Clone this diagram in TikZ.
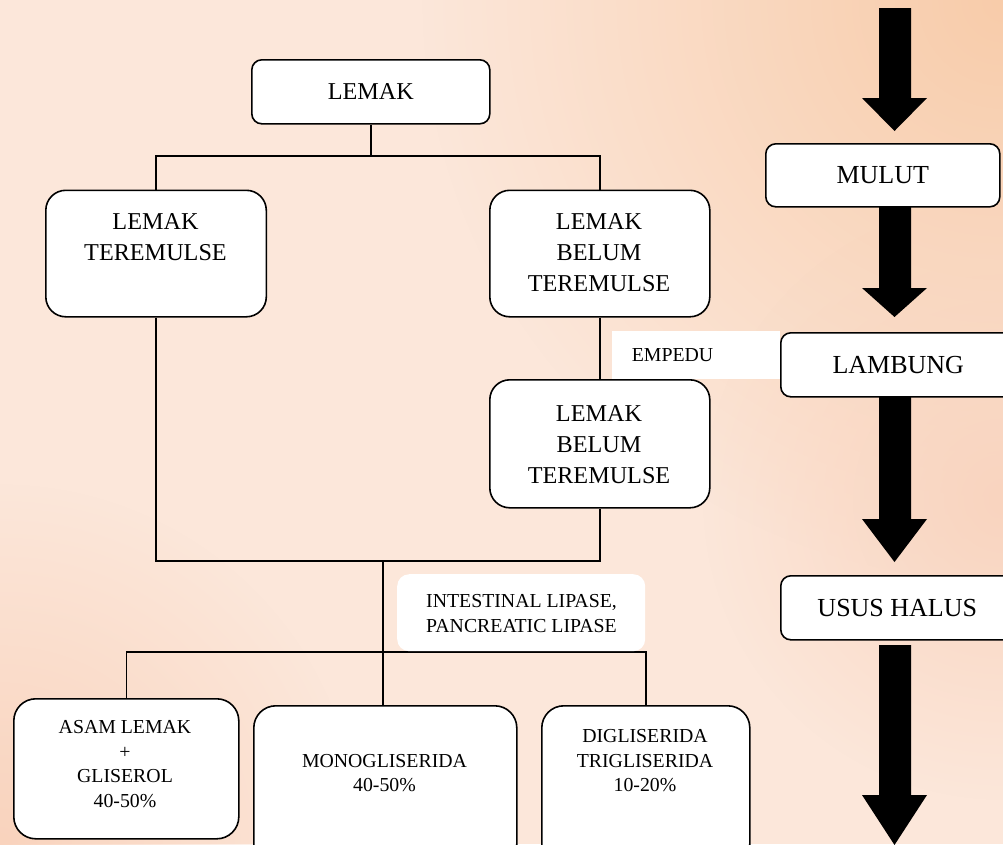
\documentclass[tikz,border=0pt]{standalone}
\usepackage{fontspec}
\setmainfont{Liberation Serif}
\usetikzlibrary{fadings}
\tikzfading[name=spot, inner color=transparent!0, outer color=transparent!100]
\definecolor{bgbase}{HTML}{FCE7DA}
\definecolor{bgtr}{HTML}{F8CCAA}
\definecolor{bgbl}{HTML}{F9D3BD}
\definecolor{bgr}{HTML}{F9D4BF}
\newcommand\blockarrow[3]{%
  \fill[black] (879,#1) -- (911,#1) -- (911,#2) -- (927,#2) -- (894.5,#3) -- (862,#2) -- (879,#2) -- cycle;}
\begin{document}
\begin{tikzpicture}[x=1pt,y=-1pt,
  rbox/.style={draw=black, line width=1.6pt, fill=white, inner sep=0pt, anchor=north west},
  big/.style={font=\fontsize{24.2}{31}\selectfont, align=center, inner sep=0pt},
  side/.style={font=\fontsize{26}{31}\selectfont, align=center},
  small/.style={font=\fontsize{19.8}{24.5}\selectfont, align=center, inner sep=0pt},
  conn/.style={draw=black, line width=1.6pt}]
\useasboundingbox (0,0) rectangle (1003,844);
\clip (0,0) rectangle (1003,844);
% background
\fill[bgbase] (0,0) rectangle (1003,844);
\fill[bgtr, path fading=spot] (1003,0) circle (580);
\fill[bgbl, path fading=spot] (0,844) circle (360);
\fill[bgr, path fading=spot] (1003,500) circle (300);

% boxes
\node[rbox, rounded corners=10, minimum width=238, minimum height=64] (lemak) at (251,59) {};
\node[big] (tlemak) at (lemak.center) {LEMAK};
\node[rbox, rounded corners=20, minimum width=220.5, minimum height=126.5] (emul) at (45,189.5) {};
\node[rbox, rounded corners=20, minimum width=220, minimum height=126.5] (belum1) at (489,189.5) {};
\node[rbox, rounded corners=20, minimum width=220, minimum height=128] (belum2) at (489,379) {};

% connector junctions
\coordinate (j1) at (lemak.south |- 0,156);
\coordinate (j2) at (383,561);
\coordinate (j3) at (383,652);

\draw[conn] (lemak.south) -- (j1);
\draw[conn] (emul.north) |- (j1) -| (belum1.north);
\draw[conn] (belum1.south) -- (belum2.north);
\draw[conn] (emul.south) |- (j2) -| (belum2.south);

\node[rbox, rounded corners=22, minimum width=225, minimum height=140] (asam) at (13,698) {};
\node[rbox, rounded corners=22, minimum width=263, minimum height=160] (mono) at (253,705) {};
\node[rbox, rounded corners=22, minimum width=208, minimum height=160] (digl) at (541,705) {};

\draw[conn] (j2) -- (j2 |- mono.north);
\draw[conn] (asam.north) |- (j3) -| (digl.north);

% texts inside boxes
\node[big] (temul) at (155.5,237.5) {LEMAK\\TEREMULSE};
\node[big] (tbelum1) at (599,253) {LEMAK\\BELUM\\TEREMULSE};
\node[big] (tbelum2) at (599,444.5) {LEMAK\\BELUM\\TEREMULSE};

% enzyme label
\node[fill=white, rounded corners=12, minimum width=248, minimum height=77, anchor=north west, inner sep=0pt] (lipbox) at (397,574) {};
\node[small] (lip) at (521.5,613.5) {INTESTINAL LIPASE,\\PANCREATIC LIPASE};

\node[small] (tasam) at (125,764) {ASAM LEMAK\\+\\GLISEROL\\40-50\%};
\node[small] (tmono) at (384.5,773) {MONOGLISERIDA\\40-50\%};
\node[small] (tdigl) at (645,761) {DIGLISERIDA\\TRIGLISERIDA\\10-20\%};

% empedu
\node[fill=white, minimum width=168, minimum height=48, anchor=north west, inner sep=0pt] (empbox) at (612,331) {};
\node[small] (empedu) at (672.5,355) {EMPEDU};

% right column
\node[rbox, rounded corners=10, minimum width=234, minimum height=63, side] (mulut) at (765,143) {MULUT};
\node[rbox, rounded corners=10, minimum width=235, minimum height=64, side] (lambung) at (780,332) {LAMBUNG};
\node[rbox, rounded corners=10, minimum width=233, minimum height=64, side] (usus) at (780,575) {USUS HALUS};

\blockarrow{8}{98}{131}
\blockarrow{206}{288}{317}
\blockarrow{396}{519}{562}
\blockarrow{645}{795}{845}
\end{tikzpicture}
\end{document}
